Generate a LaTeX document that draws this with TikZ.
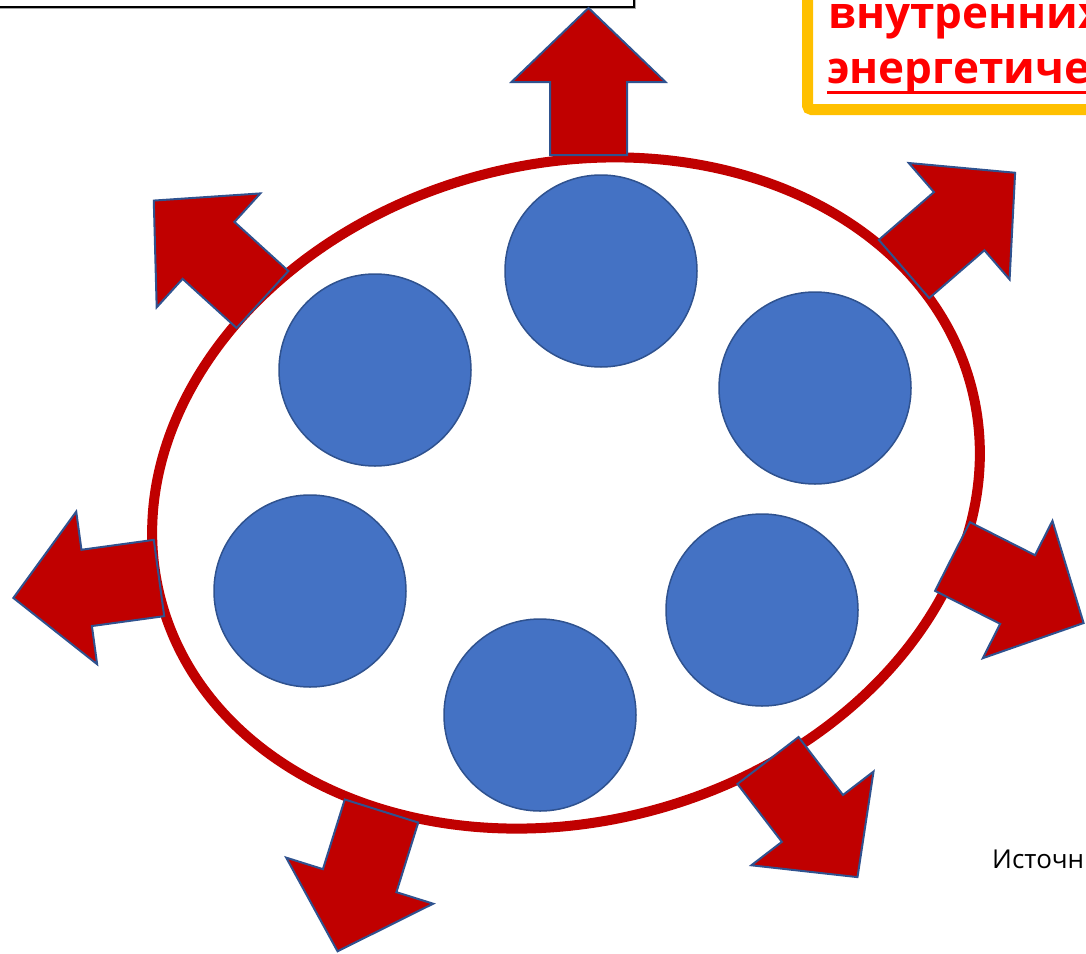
\documentclass[tikz,border=0pt]{standalone}
\usepackage{fontspec}
\setmainfont{Open Sans}
\usepackage{xcolor}
\usetikzlibrary{positioning,shadows}
\definecolor{ringred}{HTML}{C00000}
\definecolor{ballblue}{HTML}{4472C4}
\definecolor{edgeblue}{HTML}{2F528F}
\definecolor{framegold}{HTML}{FFC000}
\definecolor{titlered}{HTML}{FF0000}

\begin{document}
\begin{tikzpicture}[
    x=1pt, y=-1pt,
    ball/.style={circle, draw=edgeblue, fill=ballblue, line width=1.5pt,
      minimum size=192pt, inner sep=0pt},
    blockarr/.style={fill=ringred, draw=edgeblue, line width=2pt,
      line join=miter},
    outarrow/.pic={
      \filldraw[blockarr] (0,-38.5) -- (73,-38.5) -- (73,-77) -- (147,0)
        -- (73,77) -- (73,38.5) -- (0,38.5) -- cycle;
    },
    heading/.style={font=\fontsize{44}{55}\selectfont\bfseries,
      text=titlered, inner sep=0pt, anchor=base west}
]
\useasboundingbox (0,0) rectangle (1086,953);
\clip (0,0) rectangle (1086,953);

\node[draw=black, fill=white, line width=1.5pt, outer sep=0pt,
      minimum width=700pt, minimum height=60pt, anchor=south east,
      drop shadow={shadow xshift=1.5pt, shadow yshift=-1.5pt,
        fill=gray!70, opacity=1}] (topbox) at (634,7) {};

\node[draw=framegold, fill=white, line width=11pt, rounded corners=4pt,
      outer sep=0pt, minimum width=400pt, minimum height=200pt,
      anchor=south west] (titlebox) at (807.5,109.5) {};
\node[heading] (line1) at (828,28) {внутренних};
\node[heading] (line2) at (827,83) {энергетических};
\draw[titlered, line width=3pt] ([yshift=-9pt]line2.base west)
  -- ([yshift=-9pt]line2.base east);

\draw[ringred, line width=10pt, rotate around={14.7:(566,493)}]
  (566,493) ellipse [x radius=419, y radius=329];

\foreach \bx/\by/\ang in {588.5/155/90, 262.5/299.5/137.7, 904/269/40.9,
    952.5/556.5/-26.9, 768/760.5/-52.5, 381.5/811/-107.4, 159/578/187.8}
  \pic[rotate=\ang] at (\bx,\by) {outarrow};

\foreach \cx/\cy [count=\i] in {601/271, 375/370, 815/388, 310/591,
    540/715, 762/610}
  \node[ball] (ball\i) at (\cx,\cy) {};

\node[font=\fontsize{26}{30}\selectfont, inner sep=0pt, anchor=base west]
  (source) at (992,868) {Источник:};
\end{tikzpicture}
\end{document}
